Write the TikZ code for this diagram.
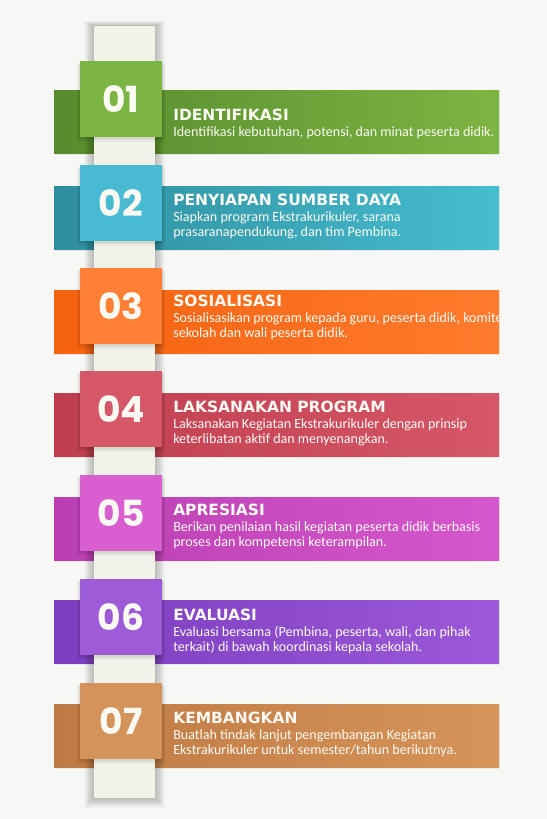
\documentclass[tikz,border=0pt]{standalone}
\usepackage{fontspec}
\setmainfont{Carlito}
\newfontfamily\numfont{Poppins}
\newfontfamily\headfont{DejaVu Sans}
\usetikzlibrary{positioning}

\definecolor{paper}{HTML}{F7F7F5}
\definecolor{pole}{HTML}{F1F3E8}
\definecolor{inkwhite}{HTML}{FBFAF2}
\definecolor{grnD}{HTML}{568C2D}\definecolor{grnL}{HTML}{7DB443}\definecolor{grnB}{HTML}{7DB545}
\definecolor{cyaD}{HTML}{2F8E9E}\definecolor{cyaL}{HTML}{46BDD0}\definecolor{cyaB}{HTML}{48BAD1}
\definecolor{orgD}{HTML}{F5620F}\definecolor{orgL}{HTML}{FF7B2D}\definecolor{orgB}{HTML}{FF7F35}
\definecolor{redD}{HTML}{BE3E4F}\definecolor{redL}{HTML}{D65767}\definecolor{redB}{HTML}{D65868}
\definecolor{magD}{HTML}{BA3FB2}\definecolor{magL}{HTML}{D557CD}\definecolor{magB}{HTML}{D95FD1}
\definecolor{vioD}{HTML}{7C3DBE}\definecolor{vioL}{HTML}{9C58D8}\definecolor{vioB}{HTML}{9D5BD8}
\definecolor{ochD}{HTML}{BF7944}\definecolor{ochL}{HTML}{D59459}\definecolor{ochB}{HTML}{D4935A}

\begin{document}
\begin{tikzpicture}[x=0.75pt,y=-0.75pt,
  headline/.style={font=\headfont\bfseries\fontsize{11.6}{13}\selectfont,text=inkwhite,inner sep=0pt},
  bodytext/.style={font=\fontsize{10.55}{11.25}\selectfont,text=inkwhite,align=left,inner sep=0pt},
  numlabel/.style={font=\numfont\bfseries\fontsize{27}{30}\selectfont,text=inkwhite,inner sep=0pt}]
\fill[paper] (0,0) rectangle (547,819);
\useasboundingbox (0,0) rectangle (547,819);
% banners with title and text
\foreach \yb/\tofs/\dk/\lt/\ttl/\lines in {
 90/30/grnD/grnL/IDENTIFIKASI/{Identifikasi kebutuhan, potensi, dan minat peserta didik.},
 186/19/cyaD/cyaL/PENYIAPAN SUMBER DAYA/{Siapkan program Ekstrakurikuler, sarana\\prasaranapendukung, dan tim Pembina.},
 290/16/orgD/orgL/SOSIALISASI/{Sosialisasikan program kepada guru, peserta didik, komite\\sekolah dan wali peserta didik.},
 393/19/redD/redL/LAKSANAKAN PROGRAM/{Laksanakan Kegiatan Ekstrakurikuler dengan prinsip\\keterlibatan aktif dan menyenangkan.},
 497/18/magD/magL/APRESIASI/{Berikan penilaian hasil kegiatan peserta didik berbasis\\proses dan kompetensi keterampilan.},
 600/20/vioD/vioL/EVALUASI/{Evaluasi bersama (Pembina, peserta, wali, dan pihak\\terkait) di bawah koordinasi kepala sekolah.},
 704/19/ochD/ochL/KEMBANGKAN/{Buatlah tindak lanjut pengembangan Kegiatan\\Ekstrakurikuler untuk semester{/}tahun berikutnya.}}{
\fill[black,opacity=0.06] (55,\yb+1) rectangle (500,\yb+65);
\shade[left color=\dk,right color=\lt] (54,\yb) rectangle (499,\yb+63);
\begin{scope}
\clip (54,\yb) rectangle (499,\yb+63);
\node[headline,anchor=base west] (ttl\yb) at (173,\yb+\tofs) {\ttl};
\node[bodytext,anchor=north west] (txt\yb) at (173,\yb+\tofs+6) {\lines};
\end{scope}
}
% the pole
\foreach \s in {1,...,8}
  \fill[black,opacity=0.03] (94-1.2*\s,26-0.6*\s) rectangle (155+1.2*\s,798+1.2*\s);
\fill[pole] (94,26) rectangle (155,798);
% number boxes
\foreach \n/\bt/\bxc in {1/61/grnB,2/165/cyaB,3/268/orgB,4/371/redB,5/475/magB,6/579/vioB,7/683/ochB}{
\foreach \s in {1,...,3}
  \fill[black,opacity=0.04] (80-\s,\bt+\s) rectangle (162+\s,\bt+76+1.5*\s);
\fill[\bxc] (80,\bt) rectangle (162,\bt+76);
\node[numlabel] (num\n) at (121,\bt+38) {0\n};
}
\end{tikzpicture}
\end{document}
